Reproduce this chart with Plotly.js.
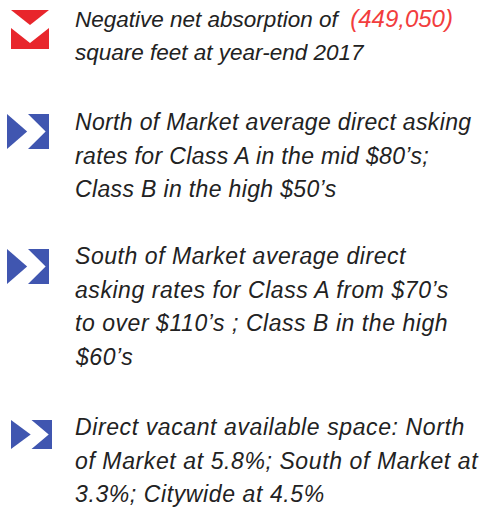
<!DOCTYPE html>
<html>
<head>
<meta charset="utf-8">
<script src="https://cdn.plot.ly/plotly-3.0.1.min.js"></script>
<style>html,body{margin:0;padding:0;background:#fff;}#chart{width:482px;height:512px;}</style>
</head>
<body>
<div id="chart"></div>
<script>
// Text content of each bullet (one entry per printed line)
const absorption = "(449,050)";
const bullet1 = ["Negative net absorption of&nbsp; <span style='color:#f23d3d;font-size:24px'>" + absorption + "</span>", "square feet at year-end 2017"];
const bullet2 = ["North of Market average direct asking", "rates for Class A in the mid $80’s;", "Class B in the high $50’s"];
const bullet3 = ["South of Market average direct", "asking rates for Class A from $70’s", "to over $110’s ; Class B in the high", "$60’s"];
const bullet4 = ["Direct vacant available space: North", "of Market at 5.8%; South of Market at", "3.3%; Citywide at 4.5%"];
const bullets = [bullet1, bullet2, bullet3, bullet4];

// layout (pixels)
const firstBaselines = [27, 130, 264, 435];
const fontSizes = [22.5, 23, 23, 23];
const letterSpacing = [0, 0.35, 0.55, 0.6];
const lineGap = 33.8;
const textX = 73;

const annotations = [];
bullets.forEach((lines, i) => {
  lines.forEach((t, j) => {
    const base = firstBaselines[i] + j * lineGap;
    const fs = fontSizes[i];
    annotations.push({
      x: textX, y: base - 0.36 * fs, xref: 'x', yref: 'y',
      xanchor: 'left', yanchor: 'middle', showarrow: false,
      text: `<span style='letter-spacing:${letterSpacing[i]}px'>${t}</span>`,
      font: {family: 'Liberation Sans, Arial, sans-serif', size: fs, color: '#222222', style: 'italic'}
    });
  });
});

const red = '#e8262c', blue = '#4056b0';
function blueIcon(x0, y0, x1, y1) {
  const ym = (y0 + y1) / 2, w = x1 - x0;
  return [
    {type: 'path', xref: 'x', yref: 'y', line: {width: 0}, fillcolor: blue,
     path: `M${x0},${y0} L${x0 + 0.48 * w},${ym} L${x0},${y1} Z`},
    {type: 'path', xref: 'x', yref: 'y', line: {width: 0}, fillcolor: blue,
     path: `M${x0 + 0.5 * w},${y0} L${x1},${y0} L${x1},${y1} L${x0 + 0.5 * w},${y1} L${x0 + 0.92 * w},${ym} Z`}
  ];
}
const shapes = [
  {type: 'path', xref: 'x', yref: 'y', line: {width: 0}, fillcolor: red, path: 'M11,10 L49,10 L30,25 Z'},
  {type: 'path', xref: 'x', yref: 'y', line: {width: 0}, fillcolor: red, path: 'M11,28 L30,43 L49,28 L49,49 L11,49 Z'},
  ...blueIcon(7, 114, 49, 149),
  ...blueIcon(7, 249, 49, 284),
  ...blueIcon(11, 420, 52, 449)
];

Plotly.newPlot('chart', [], {
  width: 482, height: 512,
  margin: {l: 0, r: 0, t: 0, b: 0},
  paper_bgcolor: '#fff', plot_bgcolor: '#fff',
  xaxis: {range: [0, 482], visible: false, fixedrange: true},
  yaxis: {range: [512, 0], visible: false, fixedrange: true},
  showlegend: false,
  annotations: annotations,
  shapes: shapes
}, {displayModeBar: false, staticPlot: true});
</script>
</body>
</html>
